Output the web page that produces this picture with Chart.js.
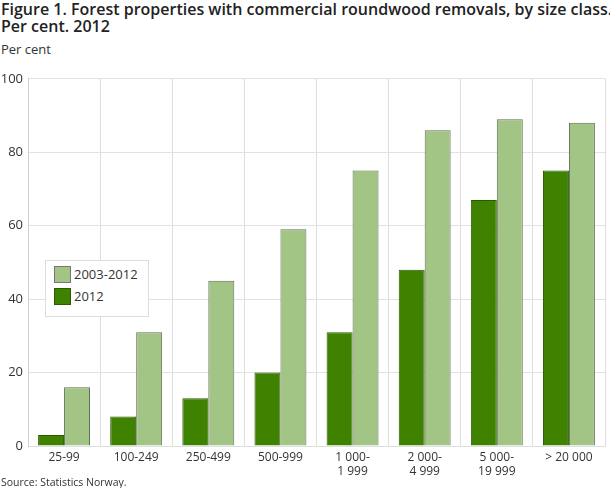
<!DOCTYPE html>
<html lang="en">
<head>
    <meta charset="UTF-8">
    <title>Forest properties with commercial roundwood removals</title>
    <script src="https://cdn.jsdelivr.net/npm/chart.js"></script>
    <style>
        body { margin: 0; width: 610px; height: 488px; position: relative; font-family: "Open Sans", sans-serif; color: #333; background: #fff; overflow: hidden; }
        #title { position: absolute; left: 1px; top: 1px; font-size: 16px; font-weight: 600; line-height: 17px; color: #222; white-space: nowrap; }
        #unit { position: absolute; left: 1px; top: 40px; font-size: 13px; }
        #source { position: absolute; left: 1px; top: 475px; font-size: 10.5px; }
        #wrap { position: absolute; left: 0; top: 66px; width: 610px; height: 411px; }
        #legend { position: absolute; left: 45px; top: 260px; width: 104px; height: 57px; background: #fff; border: 1px solid #ddd; box-sizing: border-box; font-size: 13px; }
        .item { position: absolute; left: 8px; height: 17px; line-height: 17px; }
        .sw { display: inline-block; width: 17px; height: 17px; box-sizing: border-box; vertical-align: top; margin-right: 3px; }
    </style>
</head>
<body>
    <div id="title">Figure 1. Forest properties with commercial roundwood removals, by size class.<br>Per cent. 2012</div>
    <div id="unit">Per cent</div>
    <div id="wrap"><canvas id="forestChart"></canvas></div>
    <div id="legend">
        <div class="item" style="top:5px"><span class="sw" style="background:#a2c585;border:1px solid #777"></span>2003-2012</div>
        <div class="item" style="top:27px"><span class="sw" style="background:#3e8200;border:1px solid #2c5a00"></span>2012</div>
    </div>
    <div id="source">Source: Statistics Norway.</div>
    <script>
        const sizeClasses = ['25-99', '100-249', '250-499', '500-999', ['1 000-', '1 999'], ['2 000-', '4 999'], ['5 000-', '19 999'], '> 20 000'];
        const share2012 = [3, 8, 13, 20, 31, 48, 67, 75];
        const share2003to2012 = [16, 31, 45, 59, 75, 86, 89, 88];
        const yTicks = [0, 20, 40, 60, 80, 100];

        const ctx = document.getElementById('forestChart').getContext('2d');
        new Chart(ctx, {
            type: 'bar',
            data: {
                labels: sizeClasses,
                datasets: [{
                    label: '2012',
                    data: share2012,
                    backgroundColor: '#3e8200',
                    borderColor: '#2c5a00',
                    borderWidth: 1,
                    categoryPercentage: 0.72,
                    barPercentage: 1
                }, {
                    label: '2003-2012',
                    data: share2003to2012,
                    backgroundColor: '#a2c585',
                    borderColor: '#5f6f55',
                    borderWidth: 1,
                    categoryPercentage: 0.72,
                    barPercentage: 1
                }]
            },
            options: {
                responsive: true,
                maintainAspectRatio: false,
                animation: false,
                layout: { padding: { top: 10, right: 5 } },
                scales: {
                    x: {
                        grid: { color: '#dedede', drawTicks: false, offset: true },
                        border: { color: '#dedede' },
                        ticks: { color: '#333', font: { family: 'Open Sans', size: 12 }, padding: 4, maxRotation: 0, autoSkip: false },
                        afterFit: (scale) => { scale.height = 31; }
                    },
                    y: {
                        min: 0,
                        max: 100,
                        afterBuildTicks: (scale) => { scale.ticks = yTicks.map(v => ({ value: v })); },
                        grid: { color: '#e2e2e2', drawTicks: false },
                        border: { color: '#cfcfcf' },
                        ticks: { color: '#333', font: { family: 'Open Sans', size: 13 }, padding: 5 },
                        afterFit: (scale) => { scale.width = 28; }
                    }
                },
                plugins: {
                    legend: { display: false },
                    tooltip: { enabled: false }
                }
            }
        });
    </script>
</body>
</html>
